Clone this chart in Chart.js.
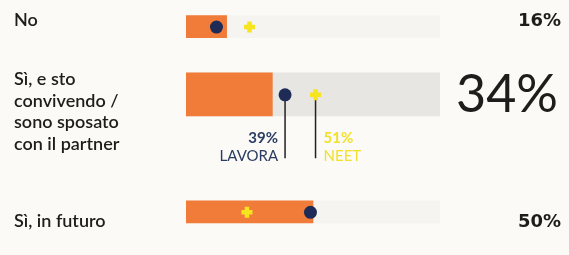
<!DOCTYPE html>
<html><head><meta charset="utf-8">
<script src="https://cdn.jsdelivr.net/npm/chart.js@4"></script>
<style>html,body{margin:0;padding:0;background:#fbfaf6;}canvas{display:block}</style>
</head><body>
<canvas id="c" width="569" height="255"></canvas>
<script>
// ---- data ----
const categories = [["No"], ["Sì, e sto", "convivendo /", "sono sposato", "con il partner"], ["Sì, in futuro"]];
const totalValues = [16, 34, 50];
const totalLabels = ["16%", "34%", "50%"];
const lavoraValues = [12, 39, 49];
const neetValues = [25, 51, 24];
const seriesNames = ["LAVORA", "NEET"];
const highlightRow = 1;
const scaleMax = 100;

// ---- layout / style ----
const L = {
  rowY: [18, 91.5, 219],
  thickness: [22, 43, 22],
  labelBase: [26, 85, 227],
  lineH: 21.6,
  pinBottom: 161,
  colors: {
    bg: '#fbfaf6', orange: '#f17c3a', navy: '#1d2b56', yellow: '#f6e41e',
    track: ['#f5f4f0', '#e7e6e2', '#f5f4f0'], text: '#1d1d1b', navyText: '#2b3c62', yellowText: '#f1e02c'
  }
};

const datasets = [];
categories.forEach((c, i) => {
  datasets.push({
    type: 'bar', indexAxis: 'y', grouped: false, order: 20,
    data: [{x: scaleMax, y: L.rowY[i]}], barThickness: L.thickness[i],
    backgroundColor: L.colors.track[i], borderWidth: 0
  });
  datasets.push({
    type: 'bar', indexAxis: 'y', grouped: false, order: 10,
    data: [{x: totalValues[i], y: L.rowY[i]}], barThickness: L.thickness[i],
    backgroundColor: L.colors.orange, borderWidth: 0
  });
});
// pins for highlighted row
[lavoraValues, neetValues].forEach(arr => {
  datasets.push({
    type: 'scatter', indexAxis: 'x', showLine: true, order: 5,
    data: [{x: arr[highlightRow], y: L.rowY[highlightRow]}, {x: arr[highlightRow], y: L.pinBottom}],
    borderColor: '#222', borderWidth: 1.5, pointRadius: 0
  });
});
datasets.push({
  type: 'scatter', indexAxis: 'x', order: 2,
  data: lavoraValues.map((v, i) => ({x: v, y: L.rowY[i] + 0.5})),
  pointStyle: 'circle', pointRadius: 6.5, backgroundColor: L.colors.navy, borderWidth: 0, pointBorderWidth: 0
});
datasets.push({
  type: 'scatter', indexAxis: 'x', order: 1,
  data: neetValues.map((v, i) => ({x: v, y: L.rowY[i] + 0.5})),
  pointStyle: 'cross', pointRadius: 5.5, borderColor: L.colors.yellow, pointBorderWidth: 4.5, borderWidth: 4.5
});

const textPlugin = {
  id: 'texts',
  beforeDraw(chart) {
    const ctx = chart.ctx;
    ctx.save();
    ctx.fillStyle = L.colors.bg;
    ctx.fillRect(0, 0, chart.width, chart.height);
    ctx.restore();
  },
  afterDraw(chart) {
    const ctx = chart.ctx;
    const xs = chart.scales.x;
    ctx.save();
    ctx.textBaseline = 'alphabetic';
    // category labels
    ctx.fillStyle = L.colors.text;
    ctx.font = '600 18px Lato';
    ctx.textAlign = 'left';
    categories.forEach((lines, i) => {
      lines.forEach((t, j) => ctx.fillText(t, 14, L.labelBase[i] + j * L.lineH));
    });
    // totals
    ctx.textAlign = 'right';
    totalLabels.forEach((t, i) => {
      if (i === highlightRow) {
        ctx.font = '400 52px Lato';
        ctx.fillText(t, 558, 112);
      } else {
        ctx.font = 'bold 18px "DejaVu Sans"';
        ctx.fillText(t, 561, L.labelBase[i]);
      }
    });
    // pin labels
    const px1 = xs.getPixelForValue(lavoraValues[highlightRow]);
    const px2 = xs.getPixelForValue(neetValues[highlightRow]);
    ctx.textAlign = 'right';
    ctx.fillStyle = L.colors.navyText;
    ctx.font = 'bold 15px Lato';
    ctx.fillText(lavoraValues[highlightRow] + '%', px1 - 7, 143);
    ctx.font = '15px Lato';
    ctx.fillText(seriesNames[0], px1 - 7, 161);
    ctx.textAlign = 'left';
    ctx.fillStyle = L.colors.yellowText;
    ctx.font = 'bold 15px Lato';
    ctx.fillText(neetValues[highlightRow] + '%', px2 + 8, 143);
    ctx.font = '15px Lato';
    ctx.fillText(seriesNames[1], px2 + 8, 161);
    ctx.restore();
  }
};

new Chart(document.getElementById('c'), {
  type: 'bar',
  data: { datasets },
  options: {
    responsive: false, animation: false, devicePixelRatio: 1,
    indexAxis: 'y',
    layout: { padding: { left: 186, right: 129, top: 0, bottom: 0 } },
    plugins: { legend: { display: false }, tooltip: { enabled: false } },
    scales: {
      x: { type: 'linear', min: 0, max: scaleMax, display: false, offset: false },
      y: { type: 'linear', min: 0, max: 255, reverse: true, display: false, offset: false }
    }
  },
  plugins: [textPlugin]
});
</script>
</body></html>
